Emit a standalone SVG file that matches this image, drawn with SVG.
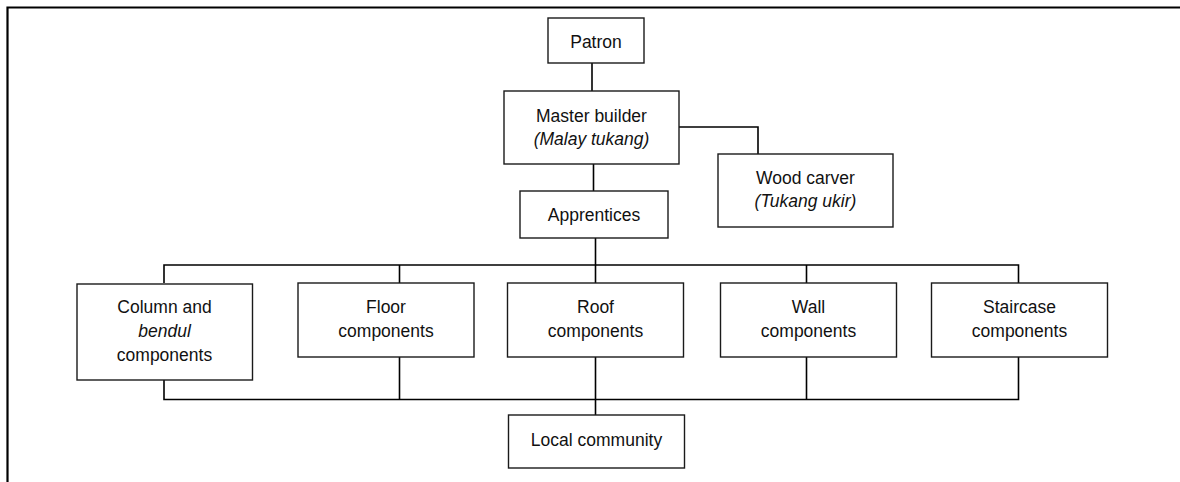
<svg xmlns="http://www.w3.org/2000/svg" width="1180" height="482" viewBox="0 0 1180 482">
<style>
.box{fill:#fff;stroke:#1a1a1a;stroke-width:1.4}
.ln{fill:none;stroke:#000;stroke-width:1.6}
text{font-family:"Liberation Sans",Arial,sans-serif;font-size:17.5px;fill:#111;text-anchor:middle}
.it{font-style:italic}
</style>
<rect width="1180" height="482" fill="#fff"/>
<path d="M7.5 482 V7.5 H1180" fill="none" stroke="#000" stroke-width="2.2"/>
<g id="connectors">
<path class="ln" d="M592 63 V91"/>
<path class="ln" d="M679 127 H758 V154"/>
<path class="ln" d="M593.5 164 V191"/>
<path class="ln" d="M595.5 238 V265"/>
<path class="ln" d="M164 283 V265 H1018.5 V283"/>
<path class="ln" d="M399.5 265 V283"/>
<path class="ln" d="M595.5 265 V283"/>
<path class="ln" d="M806.5 265 V283"/>
<path class="ln" d="M164 380 V399.5 H1018.5 V357"/>
<path class="ln" d="M399.5 357 V399.5"/>
<path class="ln" d="M806.5 357 V399.5"/>
<path class="ln" d="M595.5 357 V415"/>
</g>
<g id="patron"><rect class="box" x="548" y="18" width="96" height="45"/><text x="596" y="48">Patron</text></g>
<g id="master"><rect class="box" x="504" y="91" width="175" height="73"/><text x="591.5" y="122">Master builder</text><text class="it" x="591.5" y="145">(Malay tukang)</text></g>
<g id="carver"><rect class="box" x="718" y="154" width="175" height="73"/><text x="805.5" y="184">Wood carver</text><text class="it" x="805.5" y="207">(Tukang ukir)</text></g>
<g id="apprentices"><rect class="box" x="520" y="191" width="148" height="47"/><text x="594" y="221">Apprentices</text></g>
<g id="column"><rect class="box" x="77" y="284" width="175.5" height="96"/><text x="164.5" y="313">Column and</text><text class="it" x="164.5" y="337">bendul</text><text x="164.5" y="361">components</text></g>
<g id="floor"><rect class="box" x="298" y="283" width="176" height="74"/><text x="386" y="313">Floor</text><text x="386" y="337">components</text></g>
<g id="roof"><rect class="box" x="507.5" y="283" width="176" height="74"/><text x="595.5" y="313">Roof</text><text x="595.5" y="337">components</text></g>
<g id="wall"><rect class="box" x="720.5" y="283" width="176" height="74"/><text x="808.5" y="313">Wall</text><text x="808.5" y="337">components</text></g>
<g id="staircase"><rect class="box" x="931.5" y="283" width="176" height="74"/><text x="1019.5" y="313">Staircase</text><text x="1019.5" y="337">components</text></g>
<g id="community"><rect class="box" x="508.5" y="415" width="176" height="53"/><text x="596.5" y="446">Local community</text></g>
</svg>
